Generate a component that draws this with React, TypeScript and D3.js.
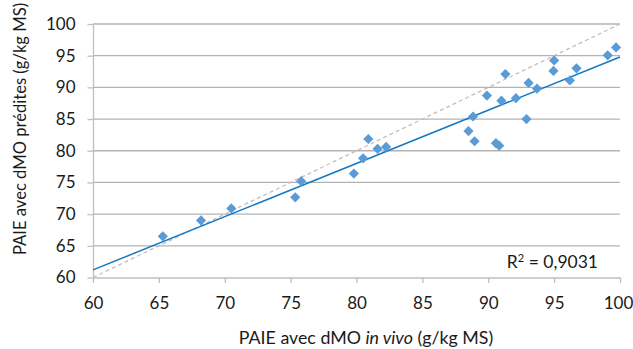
import React, { useEffect, useRef } from 'react';
import * as d3 from 'd3';

const inVivo = [65.3, 68.2, 70.5, 75.35, 75.8, 79.8, 80.5, 80.9, 81.6, 82.25, 88.5, 88.85, 88.96, 90.58, 90.83, 89.9, 91.0, 91.3, 92.1, 93.06, 92.9, 93.7, 95.0, 94.95, 96.2, 96.7, 99.07, 99.7];
const predicted = [66.5, 69.0, 70.9, 72.65, 75.2, 76.4, 78.8, 81.85, 80.3, 80.6, 83.1, 85.4, 81.5, 81.2, 80.8, 88.7, 87.9, 92.1, 88.3, 90.7, 85.0, 89.8, 94.26, 92.6, 91.1, 93.0, 95.05, 96.3];
const xTicks = [60, 65, 70, 75, 80, 85, 90, 95, 100];
const yTicks = [60, 65, 70, 75, 80, 85, 90, 95, 100];
// linear trend as drawn (slope, intercept)
const trend = { slope: 0.84, intercept: 10.8 };
const r2Label = '0,9031';

export default function App() {
  const svgRef = useRef<SVGSVGElement>(null);
  const width = 633;
  const height = 349;

  useEffect(() => {
    if (!svgRef.current) return;
    const svg = d3.select(svgRef.current);
    svg.selectAll('*').remove();

    const font = 'Lato, "Open Sans", sans-serif';
    const colors = {
      grid: '#b3b3b3',
      axis: '#bfbfbf',
      marker: '#5b9bd5',
      trend: '#1479c4',
      identity: '#bfbfbf',
      text: '#1a1a1a'
    };

    const x = d3.scaleLinear().domain([60, 100]).range([93, 620]);
    const y = d3.scaleLinear().domain([60, 100]).range([277.5, 24]);

    svg.append('rect').attr('width', width).attr('height', height).attr('fill', '#ffffff');

    // horizontal grid
    svg.append('g').selectAll('line')
      .data(yTicks.slice(1)).enter().append('line')
      .attr('x1', x(60)).attr('x2', x(100))
      .attr('y1', d => y(d)).attr('y2', d => y(d))
      .attr('stroke', colors.grid).attr('stroke-width', 1.3);

    // y axis
    const yAxis = svg.append('g').attr('transform', `translate(${x(60)},0)`)
      .call(d3.axisLeft(y).tickValues(yTicks).tickSize(5.5).tickSizeOuter(0).tickPadding(12).tickFormat(d3.format('d')));
    yAxis.select('.domain').attr('stroke', colors.axis).attr('stroke-width', 1.3);
    yAxis.selectAll('line').attr('stroke', colors.axis).attr('stroke-width', 1.3);
    yAxis.selectAll('text')
      .style('font-family', font).style('font-size', '17px').attr('fill', colors.text);

    // x axis
    const xAxis = svg.append('g').attr('transform', `translate(0,${y(60)})`)
      .call(d3.axisBottom(x).tickValues(xTicks).tickSize(5.5).tickSizeOuter(0).tickPadding(14).tickFormat(d3.format('d')));
    xAxis.select('.domain').attr('stroke', colors.axis).attr('stroke-width', 1.3);
    xAxis.selectAll('line').attr('stroke', colors.axis).attr('stroke-width', 1.3);
    xAxis.selectAll('text')
      .style('font-family', font).style('font-size', '17px').attr('fill', colors.text)
      .attr('dx', d => (d === 100 ? -2 : 0));

    // 1:1 line
    svg.append('line')
      .attr('x1', x(60)).attr('y1', y(60)).attr('x2', x(100)).attr('y2', y(100))
      .attr('stroke', colors.identity).attr('stroke-width', 1.3).attr('stroke-dasharray', '4,3');

    // trend line
    svg.append('line')
      .attr('x1', x(60)).attr('y1', y(trend.slope * 60 + trend.intercept))
      .attr('x2', x(100)).attr('y2', y(trend.slope * 100 + trend.intercept))
      .attr('stroke', colors.trend).attr('stroke-width', 1.5);

    // diamond markers
    const diamond = d3.symbol().type(d3.symbolDiamond2).size(66);
    svg.append('g').selectAll('path')
      .data(inVivo.map((v, i) => [v, predicted[i]])).enter().append('path')
      .attr('d', diamond)
      .attr('transform', d => `translate(${x(d[0])},${y(d[1])})`)
      .attr('fill', colors.marker);

    // R² label
    const r2 = svg.append('text')
      .attr('x', 598).attr('y', 268).attr('text-anchor', 'end')
      .style('font-family', font).style('font-size', '17.5px').attr('fill', colors.text);
    r2.append('tspan').text('R');
    r2.append('tspan').attr('dy', -6).style('font-size', '11px').text('2');
    r2.append('tspan').attr('dy', 6).text(` = ${r2Label}`);

    // axis titles
    const xt = svg.append('text')
      .attr('x', 366).attr('y', 344).attr('text-anchor', 'middle')
      .style('font-family', font).style('font-size', '17.8px').attr('fill', colors.text);
    xt.append('tspan').text('PAIE avec dMO ');
    xt.append('tspan').style('font-style', 'italic').text('in vivo');
    xt.append('tspan').text(' (g/kg MS)');

    svg.append('text')
      .attr('transform', 'translate(26,129) rotate(-90)')
      .attr('text-anchor', 'middle')
      .style('font-family', font).style('font-size', '16.6px').attr('fill', colors.text)
      .text('PAIE avec dMO prédites (g/kg MS)');
  }, []);

  return (
    <svg ref={svgRef} width={width} height={height} viewBox={`0 0 ${width} ${height}`}
      style={{ position: 'absolute', left: 0, top: 0 }} />
  );
}
